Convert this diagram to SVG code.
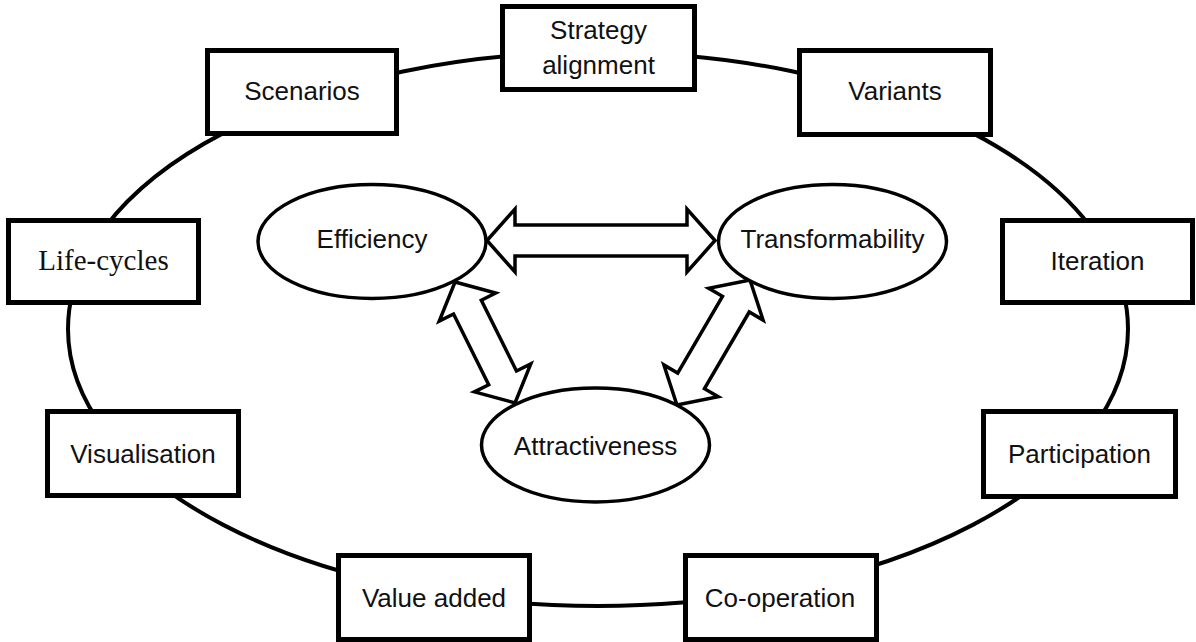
<svg xmlns="http://www.w3.org/2000/svg" width="1196" height="642" viewBox="0 0 1196 642">
  <style>
    .box { fill: #ffffff; stroke: #000000; stroke-width: 5; }
    .oval { fill: #ffffff; stroke: #000000; stroke-width: 3.5; }
    .ring { fill: none; stroke: #000000; stroke-width: 4; }
    .dbl { fill: #ffffff; stroke: #000000; stroke-width: 3.5; stroke-linejoin: miter; }
    .lbl { font-family: "Liberation Sans", Arial, sans-serif; font-size: 26px; fill: #111111; text-anchor: middle; }
    .serif { font-family: "Liberation Serif", "Times New Roman", serif; font-size: 29px; fill: #111111; text-anchor: middle; }
  </style>
  <defs>
    <!-- double-headed block arrow, unit length along x, tips at x=0 and x=L -->
    <polygon id="dblH" points="0,0 28,-31.5 28,-15.5 200,-15.5 200,-31.5 228,0 200,31.5 200,15.5 28,15.5 28,31.5"/>
  </defs>

  <rect width="1196" height="642" fill="#ffffff"/>

  <g id="connectors">
    <ellipse class="ring" cx="598" cy="329" rx="530" ry="277"/>
    <polygon class="dbl" points="487,240.5 515,209 515,225 687,225 687,209 715,240.5 687,272 687,256 515,256 515,272"/>
    <polygon class="dbl" transform="translate(455,282) rotate(63.6)" points="0,0 28,-31.5 28,-15.5 107,-15.5 107,-31.5 135,0 107,31.5 107,15.5 28,15.5 28,31.5"/>
    <polygon class="dbl" transform="translate(750,280) rotate(120.3)" points="0,0 28,-31.5 28,-15.5 116.8,-15.5 116.8,-31.5 144.8,0 116.8,31.5 116.8,15.5 28,15.5 28,31.5"/>
  </g>

  <g id="strategy-alignment">
    <rect class="box" x="502.5" y="6.5" width="192" height="83"/>
    <text class="lbl" x="598.5" y="39">Strategy</text>
    <text class="lbl" x="598.5" y="74">alignment</text>
  </g>
  <g id="scenarios">
    <rect class="box" x="207.5" y="50.5" width="189" height="83"/>
    <text class="lbl" x="302" y="100">Scenarios</text>
  </g>
  <g id="variants">
    <rect class="box" x="799.5" y="50.5" width="191" height="84"/>
    <text class="lbl" x="895" y="100">Variants</text>
  </g>
  <g id="life-cycles">
    <rect class="box" x="8.5" y="220.5" width="190" height="82"/>
    <text class="serif" x="103.5" y="270">Life-cycles</text>
  </g>
  <g id="iteration">
    <rect class="box" x="1002.5" y="220.5" width="190" height="82"/>
    <text class="lbl" x="1097.5" y="270">Iteration</text>
  </g>
  <g id="visualisation">
    <rect class="box" x="47.5" y="411.5" width="191" height="84"/>
    <text class="lbl" x="143" y="463">Visualisation</text>
  </g>
  <g id="participation">
    <rect class="box" x="983.5" y="411.5" width="192" height="85"/>
    <text class="lbl" x="1079.5" y="463">Participation</text>
  </g>
  <g id="value-added">
    <rect class="box" x="338.5" y="555.5" width="191" height="84"/>
    <text class="lbl" x="434" y="607">Value added</text>
  </g>
  <g id="co-operation">
    <rect class="box" x="685.5" y="555.5" width="191" height="84"/>
    <text class="lbl" x="780" y="607">Co-operation</text>
  </g>

  <g id="efficiency">
    <ellipse class="oval" cx="372" cy="241.5" rx="114" ry="57"/>
    <text class="lbl" x="372" y="248">Efficiency</text>
  </g>
  <g id="transformability">
    <ellipse class="oval" cx="832.5" cy="241.5" rx="114" ry="57"/>
    <text class="lbl" x="832.5" y="248">Transformability</text>
  </g>
  <g id="attractiveness">
    <ellipse class="oval" cx="595.5" cy="445" rx="114" ry="57"/>
    <text class="lbl" x="595.5" y="455">Attractiveness</text>
  </g>
</svg>
